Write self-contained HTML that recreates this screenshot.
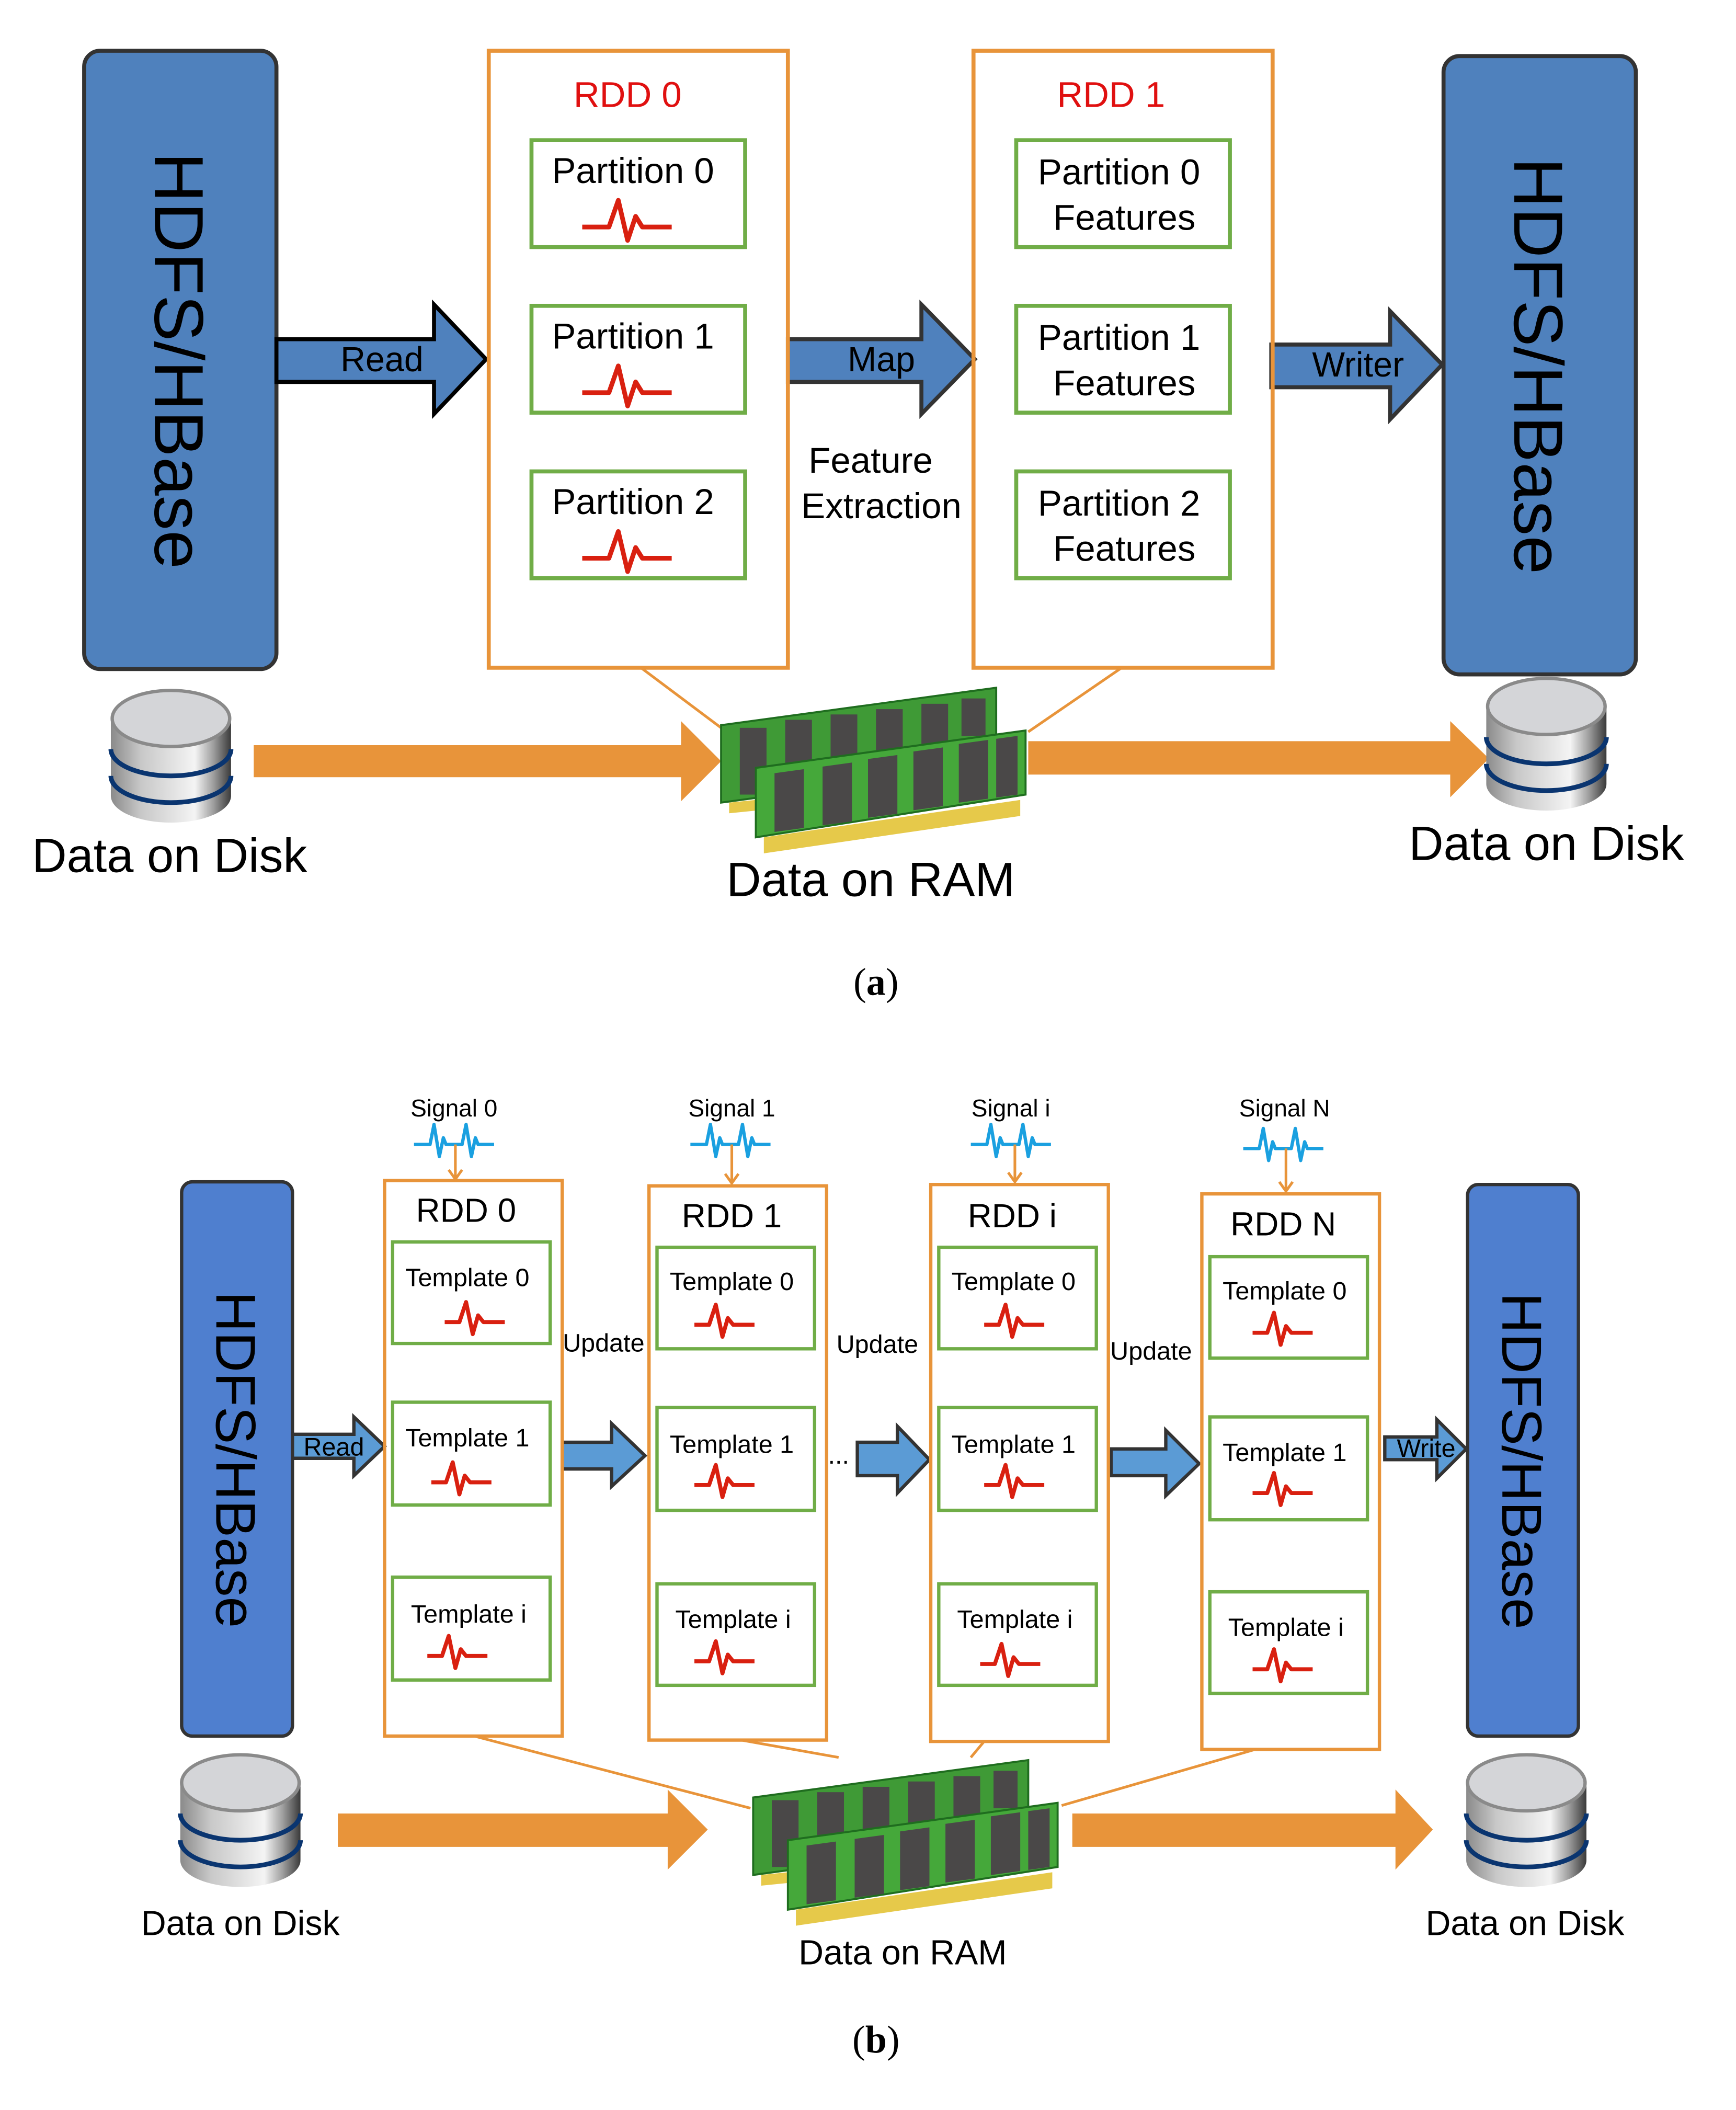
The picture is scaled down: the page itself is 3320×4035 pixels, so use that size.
<!DOCTYPE html>
<html><head><meta charset="utf-8"><style>
html,body{margin:0;padding:0;background:#fff;}
svg{display:block;}
text{font-family:"Liberation Sans",sans-serif;fill:#000;}
</style></head><body>
<svg width="3320" height="4035" viewBox="0 0 1300 1580" xmlns="http://www.w3.org/2000/svg">
<defs>
<linearGradient id="cyl" x1="0" x2="1" y1="0" y2="0">
<stop offset="0" stop-color="#8a8a8a"/><stop offset="0.25" stop-color="#c8c8c8"/><stop offset="0.7" stop-color="#f4f4f4"/><stop offset="0.85" stop-color="#a0a0a0"/><stop offset="1" stop-color="#3a3a3a"/>
</linearGradient>
<g id="disk">
<path d="M0,22 L0,80 A45,20 0 0 0 90,80 L90,22 Z" fill="url(#cyl)"/>
<path d="M0,45 A45,20 0 0 0 90,45" fill="none" stroke="#0a3570" stroke-width="3.5"/>
<path d="M0,65 A45,20 0 0 0 90,65" fill="none" stroke="#0a3570" stroke-width="3.5"/>
<ellipse cx="45" cy="22" rx="44" ry="21" fill="#d4d5d8" stroke="#8a8a8a" stroke-width="2.5"/>
</g>
<g id="ram">
<polygon points="4,28 210,0 210,50 206,56 210,60 210,58 4,86" fill="#3f9a36" stroke="#1f6d1f" stroke-width="1.5"/>
<g fill="#4a4848">
<rect x="18" y="30" width="20" height="50"/><rect x="52" y="24" width="20" height="36"/><rect x="86" y="20" width="20" height="34"/><rect x="120" y="16" width="20" height="32"/><rect x="154" y="12" width="20" height="30"/><rect x="184" y="8" width="18" height="28"/>
</g>
<polygon points="10,86 30,84 30,92 10,94" fill="#e6c94a"/>
<polygon points="30,60 232,32 232,80 30,112" fill="#45a83a" stroke="#1f6d1f" stroke-width="1.5"/>
<g fill="#4a4848">
<rect x="44" y="64" width="22" height="44" transform="skewY(-7.8) translate(0,6)"/><rect x="80" y="60" width="22" height="44" transform="skewY(-7.8) translate(0,10)"/><rect x="114" y="55" width="22" height="44" transform="skewY(-7.8) translate(0,14)"/><rect x="148" y="50" width="22" height="44" transform="skewY(-7.8) translate(0,18)"/><rect x="182" y="45" width="22" height="44" transform="skewY(-7.8) translate(0,22)"/><rect x="210" y="41" width="16" height="44" transform="skewY(-7.8) translate(0,26)"/>
</g>
<polygon points="36,112 228,84 228,96 36,124" fill="#e6c94a"/>
</g>
</defs>

<!-- ============ (a) ============ -->
<rect x="63" y="38" width="144" height="463" rx="12" fill="#4f81bd" stroke="#333" stroke-width="3"/>
<text transform="translate(116,270) rotate(90)" text-anchor="middle" font-size="52">HDFS/HBase</text>
<rect x="1081" y="42" width="144" height="463" rx="12" fill="#4f81bd" stroke="#333" stroke-width="3"/>
<text transform="translate(1134,274) rotate(90)" text-anchor="middle" font-size="52">HDFS/HBase</text>

<polygon points="207,254 325,254 325,228 364,269 325,310 325,286 207,286" fill="#4f81bd" stroke="#000" stroke-width="3"/>
<text x="286" y="278" font-size="26" text-anchor="middle">Read</text>
<polygon points="590,254 690,254 690,228 730,269 690,310 690,286 590,286" fill="#4f81bd" stroke="#333" stroke-width="3"/>
<text x="660" y="278" font-size="26" text-anchor="middle">Map</text>
<polygon points="952,258 1041,258 1041,233 1080,273 1041,314 1041,290 952,290" fill="#4f81bd" stroke="#333" stroke-width="3"/>
<text x="1017" y="282" font-size="26" text-anchor="middle">Writer</text>

<text x="652" y="354" font-size="27" text-anchor="middle">Feature</text>
<text x="660" y="388" font-size="27" text-anchor="middle">Extraction</text>

<rect x="366" y="38" width="224" height="462" fill="none" stroke="#e8943a" stroke-width="3"/>
<text x="470" y="80" font-size="27" text-anchor="middle" style="fill:#e01010">RDD 0</text>
<rect x="729" y="38" width="224" height="462" fill="none" stroke="#e8943a" stroke-width="3"/>
<text x="832" y="80" font-size="27" text-anchor="middle" style="fill:#e01010">RDD 1</text>

<g fill="#fff" stroke="#70ad47" stroke-width="3">
<rect x="398" y="105" width="160" height="80"/><rect x="398" y="229" width="160" height="80"/><rect x="398" y="353" width="160" height="80"/>
<rect x="761" y="105" width="160" height="80"/><rect x="761" y="229" width="160" height="80"/><rect x="761" y="353" width="160" height="80"/>
</g>
<g font-size="27" text-anchor="middle">
<text x="474" y="137">Partition 0</text><text x="474" y="261">Partition 1</text><text x="474" y="385">Partition 2</text>
<text x="838" y="138">Partition 0</text><text x="842" y="172">Features</text>
<text x="838" y="262">Partition 1</text><text x="842" y="296">Features</text>
<text x="838" y="386">Partition 2</text><text x="842" y="420">Features</text>
</g>
<g fill="none" stroke="#d92010" stroke-width="3.5" stroke-linejoin="round">
<path d="M436,170 L456,170 L463,150 L470,180 L476,162 L481,170 L503,170"/>
<path d="M436,294 L456,294 L463,274 L470,304 L476,286 L481,294 L503,294"/>
<path d="M436,418 L456,418 L463,398 L470,428 L476,410 L481,418 L503,418"/>
</g>

<line x1="480" y1="500" x2="540" y2="545" stroke="#e8943a" stroke-width="2"/>
<line x1="840" y1="500" x2="770" y2="548" stroke="#e8943a" stroke-width="2"/>

<polygon points="190,558 510,558 510,540 540,570 510,600 510,582 190,582" fill="#e8943a"/>
<polygon points="770,555 1086,555 1086,540 1115,568 1086,597 1086,580 770,580" fill="#e8943a"/>
<use href="#disk" x="83" y="516"/>
<use href="#disk" x="1113" y="507"/>
<use href="#ram" x="536" y="515"/>

<text x="127" y="653" font-size="36" text-anchor="middle">Data on Disk</text>
<text x="652" y="671" font-size="36" text-anchor="middle">Data on RAM</text>
<text x="1158" y="644" font-size="36" text-anchor="middle">Data on Disk</text>
<text x="656" y="745" font-size="29" text-anchor="middle" style="font-family:'Liberation Serif',serif">(<tspan font-weight="bold">a</tspan>)</text>

<!-- ============ (b) ============ -->
<rect x="136" y="885" width="83" height="415" rx="8" fill="#4f7fcf" stroke="#333" stroke-width="2.5"/>
<text transform="translate(162,1093) rotate(90)" text-anchor="middle" font-size="42">HDFS/HBase</text>
<rect x="1099" y="887" width="83" height="413" rx="8" fill="#4f7fcf" stroke="#333" stroke-width="2.5"/>
<text transform="translate(1125,1094) rotate(90)" text-anchor="middle" font-size="42">HDFS/HBase</text>

<g fill="#5b9bd5" stroke="#333" stroke-width="2.5">
<polygon points="219,1074 265,1074 265,1061 288,1083 265,1105 265,1092 219,1092"/>
<polygon points="421,1080 458,1080 458,1066 483,1090 458,1113 458,1100 421,1100"/>
<polygon points="642,1080 672,1080 672,1068 696,1093 672,1118 672,1105 642,1105"/>
<polygon points="832,1085 873,1085 873,1071 898,1096 873,1120 873,1105 832,1105"/>
<polygon points="1037,1076 1076,1076 1076,1063 1098,1085 1076,1107 1076,1093 1037,1093"/>
</g>
<g font-size="19" text-anchor="middle">
<text x="250" y="1090">Read</text><text x="1068" y="1091">Write</text>
<text x="452" y="1012">Update</text><text x="657" y="1013">Update</text><text x="862" y="1018">Update</text>
<text x="628" y="1096">...</text>
</g>

<g fill="none" stroke="#e8943a" stroke-width="2.5">
<rect x="288" y="884" width="133" height="416"/><rect x="486" y="888" width="133" height="415"/>
<rect x="697" y="887" width="133" height="417"/><rect x="900" y="894" width="133" height="416"/>
</g>
<g font-size="25" text-anchor="middle">
<text x="349" y="915">RDD 0</text><text x="548" y="919">RDD 1</text><text x="758" y="919">RDD i</text><text x="961" y="925">RDD N</text>
</g>
<g font-size="18" text-anchor="middle">
<text x="340" y="836">Signal 0</text><text x="548" y="836">Signal 1</text><text x="757" y="836">Signal i</text><text x="962" y="836">Signal N</text>
</g>
<g fill="none" stroke="#1aa0e0" stroke-width="2.5" stroke-linejoin="round">
<path d="M310,857 L322,857 L325,842 L329,866 L332,852 L334,857 L346,857 L349,842 L353,866 L356,852 L358,857 L370,857"/>
<path d="M517,857 L529,857 L532,842 L536,866 L539,852 L541,857 L553,857 L556,842 L560,866 L563,852 L565,857 L577,857"/>
<path d="M727,857 L739,857 L742,842 L746,866 L749,852 L751,857 L763,857 L766,842 L770,866 L773,852 L775,857 L787,857"/>
<path d="M931,860 L943,860 L946,845 L950,869 L953,855 L955,860 L967,860 L970,845 L974,869 L977,855 L979,860 L991,860"/>
</g>
<g stroke="#e8943a" stroke-width="2" fill="none">
<path d="M341,857 L341,883 M336,876 L341,883 L346,876"/>
<path d="M548,857 L548,886 M543,879 L548,886 L553,879"/>
<path d="M760,857 L760,885 M755,878 L760,885 L765,878"/>
<path d="M963,860 L963,892 M958,885 L963,892 L968,885"/>
</g>

<g fill="#fff" stroke="#70ad47" stroke-width="2.5">
<rect x="294" y="930" width="118" height="76"/><rect x="294" y="1050" width="118" height="77"/><rect x="294" y="1181" width="118" height="77"/>
<rect x="492" y="934" width="118" height="76"/><rect x="492" y="1054" width="118" height="77"/><rect x="492" y="1186" width="118" height="76"/>
<rect x="703" y="934" width="118" height="76"/><rect x="703" y="1054" width="118" height="77"/><rect x="703" y="1186" width="118" height="76"/>
<rect x="906" y="941" width="118" height="76"/><rect x="906" y="1061" width="118" height="77"/><rect x="906" y="1192" width="118" height="76"/>
</g>
<g font-size="19" text-anchor="middle">
<text x="350" y="963">Template 0</text><text x="350" y="1083">Template 1</text><text x="351" y="1215">Template i</text>
<text x="548" y="966">Template 0</text><text x="548" y="1088">Template 1</text><text x="549" y="1219">Template i</text>
<text x="759" y="966">Template 0</text><text x="759" y="1088">Template 1</text><text x="760" y="1219">Template i</text>
<text x="962" y="973">Template 0</text><text x="962" y="1094">Template 1</text><text x="963" y="1225">Template i</text>
</g>
<g fill="none" stroke="#d92010" stroke-width="3" stroke-linejoin="round">
<path d="M333,990 L344,990 L349,975 L354,999 L358,985 L362,990 L378,990"/>
<path d="M323,1110 L334,1110 L339,1095 L344,1119 L348,1105 L352,1110 L368,1110"/>
<path d="M320,1240 L331,1240 L336,1225 L341,1249 L345,1235 L349,1240 L365,1240"/>
<path d="M520,992 L531,992 L536,977 L541,1001 L545,987 L549,992 L565,992"/>
<path d="M520,1112 L531,1112 L536,1097 L541,1121 L545,1107 L549,1112 L565,1112"/>
<path d="M520,1244 L531,1244 L536,1229 L541,1253 L545,1239 L549,1244 L565,1244"/>
<path d="M737,992 L748,992 L753,977 L758,1001 L762,987 L766,992 L782,992"/>
<path d="M737,1112 L748,1112 L753,1097 L758,1121 L762,1107 L766,1112 L782,1112"/>
<path d="M734,1246 L745,1246 L750,1231 L755,1255 L759,1241 L763,1246 L779,1246"/>
<path d="M938,998 L949,998 L954,983 L959,1007 L963,993 L967,998 L983,998"/>
<path d="M938,1118 L949,1118 L954,1103 L959,1127 L963,1113 L967,1118 L983,1118"/>
<path d="M938,1250 L949,1250 L954,1235 L959,1259 L963,1245 L967,1250 L983,1250"/>
</g>

<g stroke="#e8943a" stroke-width="2">
<line x1="355" y1="1300" x2="562" y2="1354"/>
<line x1="555" y1="1303" x2="628" y2="1316"/>
<line x1="737" y1="1304" x2="727" y2="1316"/>
<line x1="940" y1="1310" x2="795" y2="1352"/>
</g>
<polygon points="253,1358 500,1358 500,1340 530,1370 500,1400 500,1383 253,1383" fill="#e8943a"/>
<polygon points="803,1358 1045,1358 1045,1340 1073,1370 1045,1400 1045,1383 803,1383" fill="#e8943a"/>
<use href="#disk" x="135" y="1313"/>
<use href="#disk" x="1098" y="1313"/>
<use href="#ram" x="560" y="1318"/>

<text x="180" y="1449" font-size="26" text-anchor="middle">Data on Disk</text>
<text x="676" y="1471" font-size="26" text-anchor="middle">Data on RAM</text>
<text x="1142" y="1449" font-size="26" text-anchor="middle">Data on Disk</text>
<text x="656" y="1537" font-size="29" text-anchor="middle" style="font-family:'Liberation Serif',serif">(<tspan font-weight="bold">b</tspan>)</text>
</svg>
</body></html>
